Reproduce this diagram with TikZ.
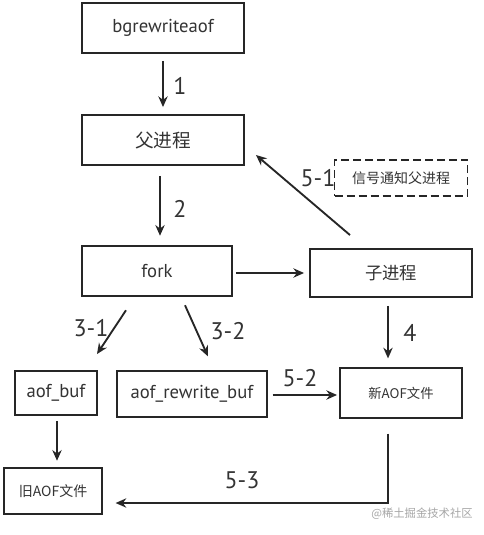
\documentclass[tikz,border=0pt]{standalone}
\usepackage{fontspec}
\setmainfont{PT Sans}
\newfontfamily\cjk{Noto Sans CJK SC}
\usetikzlibrary{arrows.meta,calc}
\begin{document}
\begin{tikzpicture}[x=0.75pt,y=-0.75pt,
  box/.style={draw=black!85,line width=1.4pt,rectangle,inner sep=0pt,align=center,text=black!80},
  arr/.style={draw=black!85,line width=1.4pt,-{Stealth[length=8pt,width=7pt]}},
  lbl/.style={font=\fontsize{18}{18}\selectfont,text=black!80}]
\useasboundingbox (0,0) rectangle (483,535);
\node[box,minimum width=121.5pt,minimum height=37.5pt,font=\fontsize{14}{14}\selectfont] (bgre) at (163,28) {bgrewriteaof};
\node[box,minimum width=121.5pt,minimum height=37.5pt,font=\cjk\fontsize{14}{14}\selectfont] (fu) at (163,140) {父进程};
\node[box,dashed,dash pattern=on 6pt off 3pt,minimum width=99.75pt,minimum height=27pt,font=\cjk\fontsize{10.5}{10.5}\selectfont] (sig) at (401,178) {信号通知父进程};
\node[box,minimum width=112.5pt,minimum height=38pt,font=\fontsize{14}{14}\selectfont] (fork) at (157,271) {fork};
\node[box,minimum width=121.5pt,minimum height=36pt,font=\cjk\fontsize{13}{13}\selectfont] (zi) at (391,273) {子进程};
\node[box,minimum width=62pt,minimum height=33pt,font=\fontsize{14}{14}\selectfont] (aofbuf) at (56,393) {aof\_buf};
\node[box,minimum width=112pt,minimum height=34pt,font=\fontsize{14}{14}\selectfont] (arb) at (192,394) {aof\_rewrite\_buf};
\node[box,minimum width=91.5pt,minimum height=37pt,font=\cjk\fontsize{10}{10}\selectfont] (new) at (401,393) {新AOF文件};
\node[box,minimum width=73pt,minimum height=35pt,font=\cjk\fontsize{10.5}{10.5}\selectfont] (old) at (53,491) {旧AOF文件};
\node[font=\cjk\fontsize{8.5}{8.5}\selectfont,text=black!35] (wm) at (422,514) {@稀土掘金技术社区};

\draw[arr] ($(bgre.south)+(0,7)$) -- ($(fu.north)+(0,-7)$);
\node[lbl] (l1) at (180,86) {1};
\draw[arr] ($(fu.south)+(-3,10)$) -- ($(fork.north)+(3,-9)$);
\node[lbl] (l2) at (180,209) {2};
\draw[arr] ($(fork.east)+(3,2)$) -- ($(zi.west)+(-5,0)$);
\draw[arr] ($(fork.south)+(-31,13)$) -- ($(aofbuf.north)+(41,-16)$);
\node[lbl] (l31) at (91,328) {3-1};
\draw[arr] ($(fork.south)+(28,8)$) -- ($(arb.north)+(16,-14)$);
\node[lbl] (l32) at (228,331) {3-2};
\draw[arr] ($(zi.south)+(-3,8)$) -- ($(new.north)+(-13,-9)$);
\node[lbl] (l4) at (410,333) {4};
\draw[arr] ($(zi.north)+(-41,-13)$) -- ($(fu.east)+(11,15)$);
\node[lbl] (l51) at (318,178) {5-1};
\draw[arr] ($(arb.east)+(5,1)$) -- ($(new.west)+(-2,2)$);
\node[lbl] (l52) at (300,378) {5-2};
\draw[arr] ($(aofbuf.south)+(1,5)$) -- ($(old.north)+(4,-6)$);
\draw[arr] ($(new.south)+(-13,15)$) |- ($(old.east)+(13,12)$);
\node[lbl] (l53) at (242,480) {5-3};
\end{tikzpicture}
\end{document}
